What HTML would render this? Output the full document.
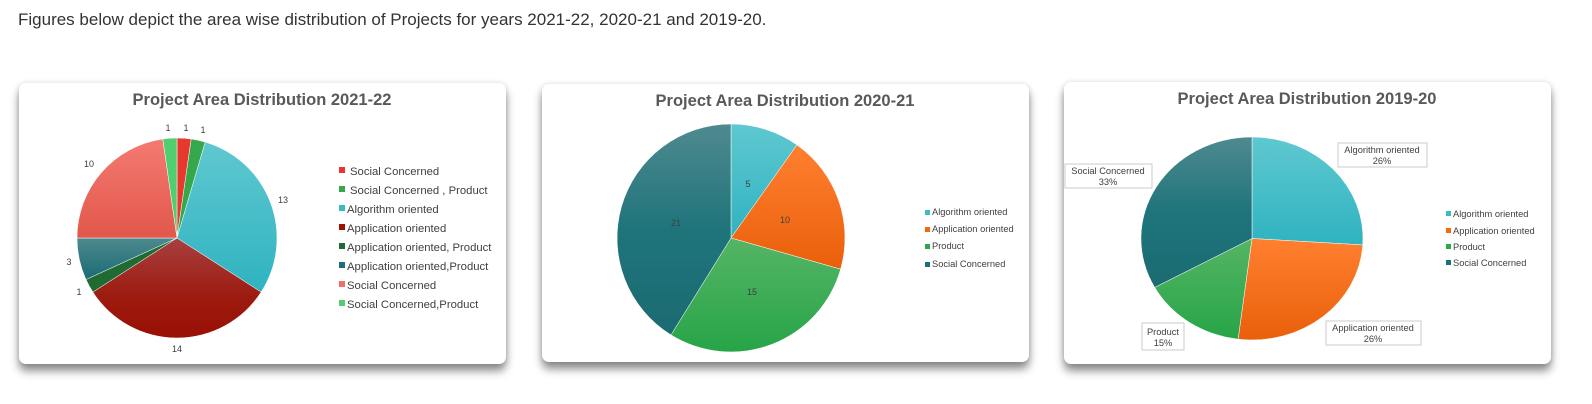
<!DOCTYPE html>
<html><head><meta charset="utf-8"><style>
body{margin:0;width:1592px;height:404px;background:#fff;position:relative;overflow:hidden;font-family:"Liberation Sans",sans-serif}
.hdr{position:absolute;left:18px;top:10px;font-size:17px;color:#333}
.card{position:absolute;background:#fff;border-radius:7px;box-shadow:0 7px 9px rgba(0,0,0,.45),0 0 6px rgba(0,0,0,.12)}
svg{position:absolute;left:0;top:0}
</style></head><body>
<div class="hdr">Figures below depict the area wise distribution of Projects for years 2021-22, 2020-21 and 2019-20.</div>
<div class="card" style="left:19px;top:83px;width:487px;height:281px"></div>
<div class="card" style="left:542px;top:84px;width:487px;height:278px"></div>
<div class="card" style="left:1064px;top:82px;width:487px;height:282px"></div>
<svg width="1592" height="404" font-family="Liberation Sans, sans-serif">
<defs>
<linearGradient id="g1" x1="0" y1="0" x2="0" y2="1"><stop offset="0" stop-color="#5fc8d0"/><stop offset="1" stop-color="#2fb3c0"/></linearGradient>
<linearGradient id="g2" x1="0" y1="0" x2="0" y2="1"><stop offset="0" stop-color="#a84040"/><stop offset=".6" stop-color="#9c1a0e"/><stop offset="1" stop-color="#9a1005"/></linearGradient>
<linearGradient id="g3" x1="0" y1="0" x2="0" y2="1"><stop offset="0" stop-color="#4d8a8e"/><stop offset="1" stop-color="#1b6b74"/></linearGradient>
<linearGradient id="g4" x1="0" y1="0" x2="0" y2="1"><stop offset="0" stop-color="#f47a72"/><stop offset="1" stop-color="#e2574b"/></linearGradient>
<linearGradient id="g5" x1="0" y1="0" x2="0" y2="1"><stop offset="0" stop-color="#ff8030"/><stop offset="1" stop-color="#ea5f0a"/></linearGradient>
<linearGradient id="g6" x1="0" y1="0" x2="0" y2="1"><stop offset="0" stop-color="#55b565"/><stop offset="1" stop-color="#27a448"/></linearGradient>
<linearGradient id="g7" x1="0" y1="0" x2="0" y2="1"><stop offset="0" stop-color="#4e8a8f"/><stop offset=".5" stop-color="#1f747b"/><stop offset="1" stop-color="#1b6b72"/></linearGradient>
</defs>
<g fill="#595959" font-weight="bold" font-size="16.5" text-anchor="middle">
<text x="262" y="105">Project Area Distribution 2021-22</text>
<text x="785" y="106">Project Area Distribution 2020-21</text>
<text x="1307" y="104">Project Area Distribution 2019-20</text>
</g>
<g stroke="#fff" stroke-width="0.5">
<path d="M177,238 L177,138 A100,100 0 0 1 191.2,139 Z" fill="#e8382e"/>
<path d="M177,238 L191.2,139 A100,100 0 0 1 205.2,142.1 Z" fill="#35a84c"/>
<path d="M177,238 L205.2,142.1 A100,100 0 0 1 261.1,292.1 Z" fill="url(#g1)"/>
<path d="M177,238 L261.1,292.1 A100,100 0 0 1 92.9,292.1 Z" fill="url(#g2)"/>
<path d="M177,238 L92.9,292.1 A100,100 0 0 1 86,279.5 Z" fill="#1f6b33"/>
<path d="M177,238 L86,279.5 A100,100 0 0 1 77,238 Z" fill="url(#g3)"/>
<path d="M177,238 L77,238 A100,100 0 0 1 162.8,139 Z" fill="url(#g4)"/>
<path d="M177,238 L162.8,139 A100,100 0 0 1 177,138 Z" fill="#4fcf70"/>
</g>
<g font-size="9" fill="#404040" text-anchor="middle">
<text x="168" y="131">1</text><text x="186" y="131">1</text><text x="203" y="133">1</text>
<text x="89" y="167">10</text><text x="283" y="203">13</text><text x="69" y="265">3</text>
<text x="79" y="295">1</text><text x="177" y="352">14</text>
</g>
<g font-size="11.3" fill="#404040">
<rect x="339" y="167" width="6" height="6" fill="#e8382e"/><text x="350" y="175">Social Concerned</text>
<rect x="339" y="186" width="6" height="6" fill="#35a84c"/><text x="350" y="194">Social Concerned , Product</text>
<rect x="339" y="205" width="6" height="6" fill="#3bbac6"/><text x="347" y="213">Algorithm oriented</text>
<rect x="339" y="224" width="6" height="6" fill="#9a1208"/><text x="347" y="232">Application oriented</text>
<rect x="339" y="243" width="6" height="6" fill="#1f6b33"/><text x="347" y="251">Application oriented, Product</text>
<rect x="339" y="262" width="6" height="6" fill="#1e6f78"/><text x="347" y="270">Application oriented,Product</text>
<rect x="339" y="281" width="6" height="6" fill="#f07068"/><text x="347" y="289">Social Concerned</text>
<rect x="339" y="300" width="6" height="6" fill="#4fcf70"/><text x="347" y="308">Social Concerned,Product</text>
</g>
<g stroke="#fff" stroke-width="0.5">
<path d="M731,238 L731,124 A114,114 0 0 1 796.9,144.9 Z" fill="url(#g1)"/>
<path d="M731,238 L796.9,144.9 A114,114 0 0 1 840.6,269.2 Z" fill="url(#g5)"/>
<path d="M731,238 L840.6,269.2 A114,114 0 0 1 671,334.9 Z" fill="url(#g6)"/>
<path d="M731,238 L671,334.9 A114,114 0 0 1 731,124 Z" fill="url(#g7)"/>
</g>
<g font-size="9" fill="#404040" text-anchor="middle">
<text x="748" y="187">5</text><text x="785" y="223">10</text><text x="752" y="295">15</text><text x="676" y="226">21</text>
</g>
<g font-size="9.3" fill="#404040">
<rect x="925" y="210" width="5" height="5" fill="#3bbcc8"/><text x="932" y="215">Algorithm oriented</text>
<rect x="925" y="227" width="5" height="5" fill="#f26a0c"/><text x="932" y="232">Application oriented</text>
<rect x="925" y="244" width="5" height="5" fill="#2ca84a"/><text x="932" y="249">Product</text>
<rect x="925" y="262" width="5" height="5" fill="#1e7077"/><text x="932" y="267">Social Concerned</text>
</g>
<g stroke="#fff" stroke-width="0.5">
<path d="M1252,238.5 L1252,137 A111,101.5 0 0 1 1362.8,244.9 Z" fill="url(#g1)"/>
<path d="M1252,238.5 L1362.8,244.9 A111,101.5 0 0 1 1238.1,339.2 Z" fill="url(#g5)"/>
<path d="M1252,238.5 L1238.1,339.2 A111,101.5 0 0 1 1154.7,287.4 Z" fill="url(#g6)"/>
<path d="M1252,238.5 L1154.7,287.4 A111,101.5 0 0 1 1252,137 Z" fill="url(#g7)"/>
</g>
<g fill="#fff" stroke="#bfbfbf" stroke-width="0.8">
<rect x="1338" y="143" width="89" height="24"/>
<rect x="1065" y="164" width="87" height="24"/>
<rect x="1142" y="323" width="42" height="27"/>
<rect x="1326" y="321" width="95" height="24"/>
</g>
<g font-size="9.3" fill="#404040" text-anchor="middle">
<text x="1382" y="153">Algorithm oriented</text><text x="1382" y="164">26%</text>
<text x="1108" y="174">Social Concerned</text><text x="1108" y="185">33%</text>
<text x="1163" y="335">Product</text><text x="1163" y="346">15%</text>
<text x="1373" y="331">Application oriented</text><text x="1373" y="342">26%</text>
</g>
<g font-size="9.3" fill="#404040">
<rect x="1446" y="211" width="5" height="5" fill="#3bbcc8"/><text x="1453" y="217">Algorithm oriented</text>
<rect x="1446" y="228" width="5" height="5" fill="#f26a0c"/><text x="1453" y="234">Application oriented</text>
<rect x="1446" y="244" width="5" height="5" fill="#2ca84a"/><text x="1453" y="250">Product</text>
<rect x="1446" y="260" width="5" height="5" fill="#1e7077"/><text x="1453" y="266">Social Concerned</text>
</g>
</svg>
</body></html>
